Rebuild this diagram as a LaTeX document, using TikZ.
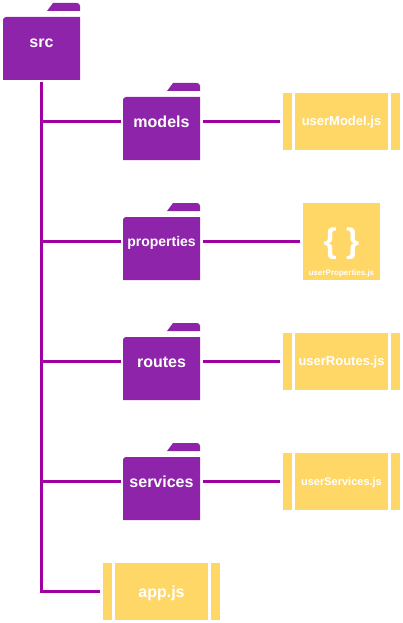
\documentclass[tikz,border=0pt]{standalone}
\usepackage{fontspec}
\setmainfont{Liberation Sans}
\definecolor{folderc}{HTML}{8E24AA}
\definecolor{filec}{HTML}{FFD766}
\definecolor{linkc}{HTML}{A000A0}
\tikzset{
  folderbox/.style={minimum width=77pt,minimum height=77pt,inner sep=0pt,outer sep=2pt,text=white,text height={0.69pt*#1},text depth=0pt,font=\bfseries\fontsize{#1}{#1}\selectfont},
  filebox/.style={minimum width=117pt,minimum height=57pt,inner sep=0pt,outer sep=3pt,text=white,text height={0.69pt*#1},text depth=0pt,font=\bfseries\fontsize{#1}{#1}\selectfont},
  jsonbox/.style={minimum width=77pt,minimum height=77pt,inner sep=0pt,outer sep=3pt,fill=filec},
  link/.style={draw=linkc,line width=3pt},
  rightlink/.style={link,shorten <=1pt}
}
\newcommand{\folderart}[2]{% centre x, centre y of tab+body box
  \fill[folderc] ({#1-38.5},{#2+38.5}) [rounded corners=3pt] -- ({#1-38.5},{#2-24.5}) [sharp corners] -- ({#1+38.5},{#2-24.5}) -- ({#1+38.5},{#2+38.5}) -- cycle;
  \fill[folderc] ({#1+5.5},{#2-30.5}) -- ({#1+11.5},{#2-38.5}) [rounded corners=3pt] -- ({#1+38.5},{#2-38.5}) [sharp corners] -- ({#1+38.5},{#2-30.5}) -- cycle;
}
\newcommand{\fileart}[2]{%
  \fill[filec] ({#1-58.5},{#2-28.5}) rectangle ({#1-49.5},{#2+28.5});
  \fill[filec] ({#1-46.5},{#2-28.5}) rectangle ({#1+46.5},{#2+28.5});
  \fill[filec] ({#1+49.5},{#2-28.5}) rectangle ({#1+58.5},{#2+28.5});
}
\begin{document}
\begin{tikzpicture}[x=1pt,y=-1pt]
\useasboundingbox (0,0) rectangle (403,623);
\folderart{41.5}{41.5}
\folderart{161.5}{121.5}
\folderart{161.5}{241.5}
\folderart{161.5}{361.5}
\folderart{161.5}{481.5}
\fileart{341.5}{121.5}
\fileart{341.5}{361.5}
\fileart{341.5}{481.5}
\fileart{161.5}{591.5}
\node[folderbox=16] (src) at (41.5,41.5) {src};
\node[folderbox=16] (models) at (161.5,121.5) {models};
\node[folderbox=14] (properties) at (161.5,241.5) {properties};
\node[folderbox=16] (routes) at (161.5,361.5) {routes};
\node[folderbox=16] (services) at (161.5,481.5) {services};
\node[filebox=13] (userModel) at (341.5,121.5) {userModel.js};
\node[jsonbox] (userProperties) at (341.5,241.5) {};
\node[text=white,inner sep=0pt,font=\bfseries\fontsize{34}{34}\selectfont] (braces) at (341.5,244) {\{ \}};
\node[text=white,inner sep=0pt,font=\bfseries\fontsize{8}{8}\selectfont] (propname) at (341.5,273.5) {userProperties.js};
\node[filebox=13] (userRoutes) at (341.5,361.5) {userRoutes.js};
\node[filebox=11] (userServices) at (341.5,481.5) {userServices.js};
\node[filebox=16] (appjs) at (161.5,591.5) {app.js};
\draw[link] (src.south) |- (models.west);
\draw[link] (src.south) |- (properties.west);
\draw[link] (src.south) |- (routes.west);
\draw[link] (src.south) |- (services.west);
\draw[link] (src.south) |- (appjs.west);
\draw[rightlink] (models.east) -- (userModel.west);
\draw[rightlink] (properties.east) -- (userProperties.west);
\draw[rightlink] (routes.east) -- (userRoutes.west);
\draw[rightlink] (services.east) -- (userServices.west);
\end{tikzpicture}
\end{document}
